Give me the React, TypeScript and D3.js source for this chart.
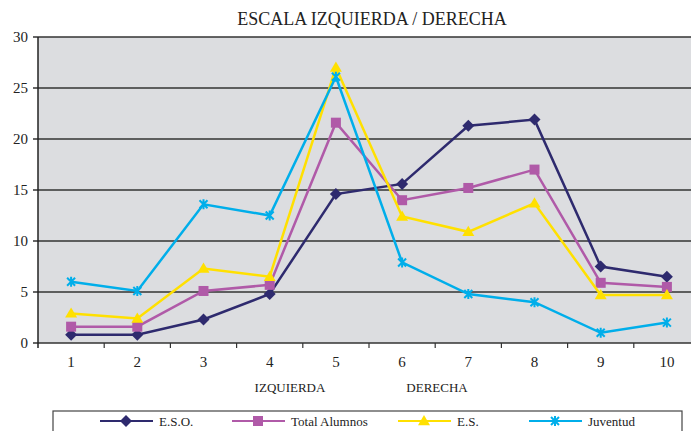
import React from "react";
import * as d3 from "d3";

const categories = ["1", "2", "3", "4", "5", "6", "7", "8", "9", "10"];
const yTicks = [0, 5, 10, 15, 20, 25, 30];
const seriesNames = ["E.S.O.", "Total Alumnos", "E.S.", "Juventud"];
const eso = [0.8, 0.8, 2.3, 4.8, 14.6, 15.6, 21.3, 21.9, 7.5, 6.5];
const totalAlumnos = [1.6, 1.6, 5.1, 5.7, 21.6, 14.0, 15.2, 17.0, 5.9, 5.5];
const es = [2.9, 2.4, 7.3, 6.5, 27.0, 12.4, 10.9, 13.7, 4.7, 4.7];
const juventud = [6.0, 5.1, 13.6, 12.5, 26.1, 7.9, 4.8, 4.0, 1.0, 2.0];
const colors = ["#2e2a6e", "#b05aa8", "#ffe000", "#00aeea"];
const markers = ["diamond", "square", "triangle", "cross"];
const legendX = [100, 232, 398, 529];

const W = 691;
const H = 431;
const left = 38;
const top = 37;
const bottom = 343;
const plotRight = 700;
const FONT = "'Liberation Serif', 'DejaVu Serif', serif";

function Marker({ type, x, y, color }: { type: string; x: number; y: number; color: string }) {
  if (type === "diamond") {
    const s = 6;
    return <path d={`M${x},${y - s}L${x + s},${y}L${x},${y + s}L${x - s},${y}Z`} fill={color} />;
  }
  if (type === "square") {
    const s = 5;
    return <rect x={x - s} y={y - s} width={2 * s} height={2 * s} fill={color} />;
  }
  if (type === "triangle") {
    const s = 6;
    return <path d={`M${x},${y - s}L${x + s},${y + s * 0.7}L${x - s},${y + s * 0.7}Z`} fill={color} />;
  }
  const s = 4;
  return (
    <path
      d={`M${x - s},${y - s}L${x + s},${y + s}M${x - s},${y + s}L${x + s},${y - s}M${x},${y - s - 1}L${x},${y + s + 1}`}
      stroke={color}
      strokeWidth={2}
      fill="none"
    />
  );
}

export default function App() {
  const data = [eso, totalAlumnos, es, juventud];
  const x = d3.scaleBand<string>().domain(categories).range([left, plotRight]).padding(0);
  const y = d3.scaleLinear().domain([0, 30]).range([bottom, top]);
  const cx = (c: string) => (x(c) as number) + x.bandwidth() / 2;
  const line = d3
    .line<number>()
    .x((_, i) => cx(categories[i]))
    .y((d) => y(d));

  return (
    <svg width={W} height={H} style={{ position: "absolute", left: 0, top: 0 }}>
      <rect x={0} y={0} width={W} height={H} fill="#ffffff" />
      <text x={372} y={25} textAnchor="middle" fontFamily={FONT} fontSize={18} fill="#222">
        ESCALA IZQUIERDA / DERECHA
      </text>
      <rect x={left} y={top} width={plotRight - left} height={bottom - top} fill="#dcdde0" />
      {yTicks.map((t) => (
        <g key={t}>
          <line x1={left - 5} x2={plotRight} y1={y(t)} y2={y(t)} stroke="#333" strokeWidth={1.5} />
          <text x={28} y={y(t) + 5} textAnchor="end" fontFamily={FONT} fontSize={15} fill="#222">
            {t}
          </text>
        </g>
      ))}
      <line x1={left} x2={left} y1={top} y2={bottom + 5} stroke="#222" strokeWidth={1.5} />
      {categories.map((c, i) => (
        <g key={c}>
          <line
            x1={(x(c) as number) + x.bandwidth()}
            x2={(x(c) as number) + x.bandwidth()}
            y1={bottom}
            y2={bottom + 5}
            stroke="#333"
            strokeWidth={1.2}
          />
          <text x={cx(c)} y={367} textAnchor="middle" fontFamily={FONT} fontSize={15} fill="#222">
            {c}
          </text>
        </g>
      ))}
      <text x={290} y={392} textAnchor="middle" fontFamily={FONT} fontSize={13} fill="#222">
        IZQUIERDA
      </text>
      <text x={437} y={392} textAnchor="middle" fontFamily={FONT} fontSize={13} fill="#222">
        DERECHA
      </text>
      {data.map((d, si) => (
        <g key={si}>
          <path d={line(d) as string} fill="none" stroke={colors[si]} strokeWidth={2.5} />
          {d.map((v, i) => (
            <Marker key={i} type={markers[si]} x={cx(categories[i])} y={y(v)} color={colors[si]} />
          ))}
        </g>
      ))}
      <rect x={53} y={411} width={629} height={40} fill="#fff" stroke="#444" strokeWidth={1.2} />
      {seriesNames.map((n, i) => (
        <g key={n}>
          <line x1={legendX[i]} x2={legendX[i] + 53} y1={421} y2={421} stroke={colors[i]} strokeWidth={2.2} />
          <Marker type={markers[i]} x={legendX[i] + 26} y={421} color={colors[i]} />
          <text x={legendX[i] + 59} y={426} fontFamily={FONT} fontSize={13} fill="#222">
            {n}
          </text>
        </g>
      ))}
    </svg>
  );
}
